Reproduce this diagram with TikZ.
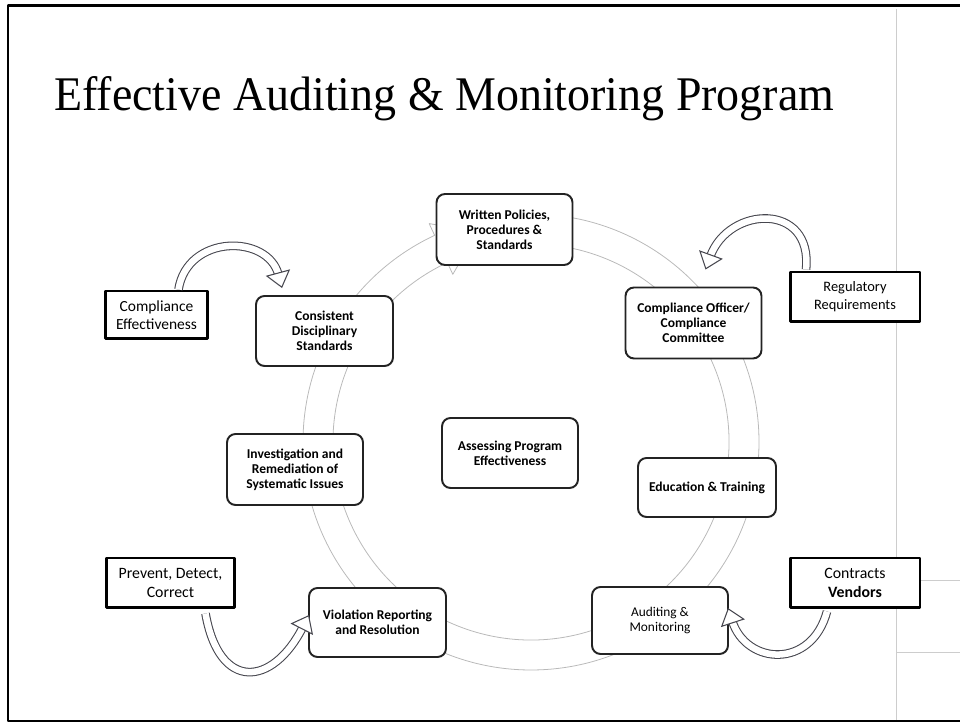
\documentclass[tikz,border=0pt]{standalone}
\usepackage{graphicx}
\usepackage{fontspec}
\usetikzlibrary{arrows.meta,calc}
\newfontfamily\carlito{Carlito}
\newfontfamily\titleserif{Liberation Serif}
\definecolor{ringgray}{RGB}{185,185,185}
\definecolor{boxline}{RGB}{35,35,35}
\definecolor{bendline}{RGB}{70,70,78}
\definecolor{sepgray}{RGB}{205,205,205}
\tikzset{
  cyclebox/.style={draw=boxline,line width=1.1pt,rounded corners=0.17cm,fill=white,
    align=center,inner sep=2pt,font=\carlito\fontsize{7.7}{8.5}\selectfont\bfseries},
  plainbox/.style={cyclebox,font=\carlito\fontsize{7.6}{8.8}\selectfont},
  sourcebox/.style={draw=black,line width=1.7pt,fill=white,align=center,inner sep=2pt,
    font=\carlito\fontsize{8.8}{10.4}\selectfont},
  bendshaft/.style={draw=bendline,line width=0.6pt,double=white,double distance=0.13cm,
    shorten >=0.28cm},
  bendhead/.style={draw=white,line width=0.1pt,
    -{Triangle[length=0.32cm,width=0.5cm,line width=0.6pt,color=bendline,fill=white]}}
}
\begin{document}
\begin{tikzpicture}[x=0.02cm,y=0.02cm,line join=round]
  \useasboundingbox (0,0) rectangle (960,723);
  % slide frame and separators
  \draw[line width=1.4pt] (960,717.5) -- (8,717.5) -- (8,2) -- (960,2);
  \draw[sepgray,line width=0.5pt] (896,714) -- (896,3);
  \draw[sepgray,line width=0.5pt] (896,143) -- (960,143) (896,71) -- (960,71);
  % title
  \node[anchor=base west,inner sep=0] (title) at (54,612)
    {\resizebox{15.6cm}{\height}{\titleserif\fontsize{27.5}{33}\selectfont Effective Auditing \& Monitoring Program}};
  % circular arrow
  \coordinate (ring) at (531,281);
  \draw[ringgray,line width=0.45pt]
    ($(ring)+(88:228)$) arc[start angle=88,end angle=-245,radius=228]
    -- ($(ring)+(115:241)$) -- ($(ring)+(115:213)+(25:40)$)
    -- ($(ring)+(115:185)$) -- ($(ring)+(115:198)$)
    arc[start angle=115,end angle=448,radius=198] -- cycle;
  % program elements
  \node[cyclebox,minimum width=2.72cm,minimum height=1.42cm] (policies) at (504.5,493.5)
    {Written Policies,\\Procedures \&\\Standards};
  \node[cyclebox,minimum width=2.72cm,minimum height=1.42cm] (officer) at (693.5,400)
    {Compliance Officer/\\Compliance\\Committee};
  \node[cyclebox,minimum width=2.74cm,minimum height=1.4cm] (discipline) at (324.5,392)
    {Consistent\\Disciplinary\\Standards};
  \node[cyclebox,minimum width=2.72cm,minimum height=1.42cm] (investigation) at (295,253.5)
    {Investigation and\\Remediation of\\Systematic Issues};
  \node[cyclebox,minimum width=2.72cm,minimum height=1.4cm] (assessing) at (510,270)
    {Assessing Program\\Effectiveness};
  \node[cyclebox,minimum width=2.76cm,minimum height=1.18cm] (training) at (707,235.5)
    {Education \& Training};
  \node[plainbox,minimum width=2.72cm,minimum height=1.34cm] (auditing) at (660,102.5)
    {Auditing \&\\Monitoring};
  \node[cyclebox,minimum width=2.74cm,minimum height=1.38cm] (violation) at (377.5,100.5)
    {Violation Reporting\\and Resolution};
  % outside drivers
  \node[sourcebox,minimum width=2.6cm,minimum height=1cm,
    font=\carlito\fontsize{8.2}{10.4}\selectfont] (regulatory) at (855,426)
    {Regulatory\\Requirements};
  \node[sourcebox,minimum width=2.06cm,minimum height=0.96cm] (effect) at (156.5,408)
    {Compliance\\Effectiveness};
  \node[sourcebox,minimum width=2.58cm,minimum height=1cm,
    font=\carlito\fontsize{9}{10.6}\selectfont] (prevent) at (170.5,140)
    {Prevent, Detect,\\Correct};
  \node[sourcebox,minimum width=2.6cm,minimum height=1cm,
    font=\carlito\fontsize{9}{10.6}\selectfont] (contracts) at (855,140)
    {Contracts\\\textbf{Vendors}};
  % bent arrows
  \draw[bendshaft] ($(effect.north)+(22,0)$) .. controls +(81:56) and +(105:56) .. ($(discipline.north west)+(27,7)$);
  \draw[bendhead] ($(effect.north)+(22,0)$) .. controls +(81:56) and +(105:56) .. ($(discipline.north west)+(27,7)$);
  \draw[bendshaft] ($(regulatory.north)+(-49,1)$) .. controls +(84:68) and +(70:68) .. ($(officer.north)+(12,17)$);
  \draw[bendhead] ($(regulatory.north)+(-49,1)$) .. controls +(84:68) and +(70:68) .. ($(officer.north)+(12,17)$);
  \draw[bendshaft] ($(prevent.south)+(35,-4)$) .. controls +(280:80) and +(243:80) .. ($(violation.west)+(1,7.5)$);
  \draw[bendhead] ($(prevent.south)+(35,-4)$) .. controls +(280:80) and +(243:80) .. ($(violation.west)+(1,7.5)$);
  \draw[bendshaft] ($(contracts.south)+(-28,-2)$) .. controls +(255:60) and +(288:60) .. ($(auditing.east)+(-1,12.5)$);
  \draw[bendhead] ($(contracts.south)+(-28,-2)$) .. controls +(255:60) and +(288:60) .. ($(auditing.east)+(-1,12.5)$);
\end{tikzpicture}
\end{document}
